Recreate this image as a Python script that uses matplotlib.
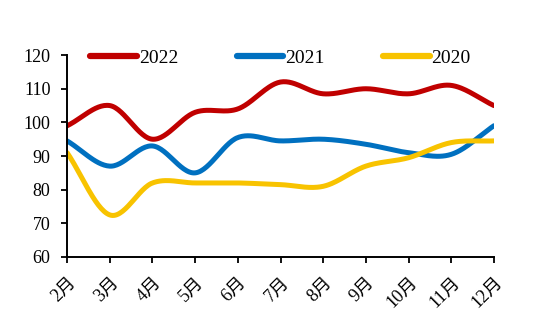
import numpy as np
import matplotlib.pyplot as plt

plt.rcParams['font.family'] = ['Liberation Serif', 'Noto Sans CJK SC']

months = ['2月', '3月', '4月', '5月', '6月', '7月', '8月', '9月', '10月', '11月', '12月']
y2022 = [99, 105, 95, 103, 104, 112, 108.5, 110, 108.5, 111, 105]
y2021 = [94.5, 87, 93, 85, 95.5, 94.5, 95, 93.5, 91, 90.5, 99]
y2020 = [91, 72.5, 82, 82, 82, 81.5, 81, 87, 89.5, 94, 94.5]


def smooth(x, y, n=30):
    # Catmull-Rom curve through the points, like Excel's smoothed line
    x = np.asarray(x, float)
    y = np.asarray(y, float)
    px = np.concatenate([[2 * x[0] - x[1]], x, [2 * x[-1] - x[-2]]])
    py = np.concatenate([[2 * y[0] - y[1]], y, [2 * y[-1] - y[-2]]])
    xs, ys = [], []
    t = np.linspace(0, 1, n, endpoint=False)
    for i in range(1, len(px) - 2):
        for p, out in ((px, xs), (py, ys)):
            p0, p1, p2, p3 = p[i - 1], p[i], p[i + 1], p[i + 2]
            out.extend(0.5 * ((2 * p1) + (-p0 + p2) * t
                              + (2 * p0 - 5 * p1 + 4 * p2 - p3) * t ** 2
                              + (-p0 + 3 * p1 - 3 * p2 + p3) * t ** 3))
    xs.append(x[-1])
    ys.append(y[-1])
    return np.array(xs), np.array(ys)


fig = plt.figure(figsize=(5.5, 3.32), dpi=100)
ax = fig.add_axes([0.122, 0.226, 0.776, 0.608])

x = np.arange(len(months))
series = [('2022', y2022, '#C00000'), ('2021', y2021, '#0070C0'), ('2020', y2020, '#F8C300')]
for name, vals, col in series:
    sx, sy = smooth(x, vals)
    ax.plot(sx, sy, color=col, lw=3.6, label=name, solid_capstyle='round')

ax.set_xlim(0, len(months) - 1)
ax.set_ylim(60, 120)
ax.set_yticks(range(60, 121, 10))
ax.set_xticks(x)
ax.set_xticklabels(months, rotation=45, ha='right', va='top', rotation_mode='anchor')
ax.tick_params(labelsize=13, width=1.3, length=4)
ax.tick_params(axis='x', pad=8)
ax.tick_params(axis='y', pad=8)
for s in ['top', 'right']:
    ax.spines[s].set_visible(False)
for s in ['left', 'bottom']:
    ax.spines[s].set_linewidth(1.4)

leg = ax.legend(loc='center', bbox_to_anchor=(0.5, 0.985), ncol=3, frameon=False,
                fontsize=14, handlelength=2.4, columnspacing=3.0, handletextpad=0.1)
for h in leg.get_lines():
    h.set_linewidth(4.5)

plt.savefig('out.png', dpi=100)
